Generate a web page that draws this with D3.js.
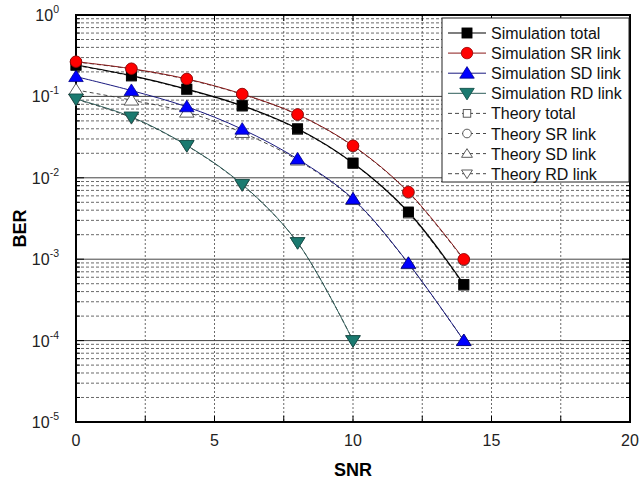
<!DOCTYPE html>
<html>
<head>
<meta charset="utf-8">
<script src="https://cdn.jsdelivr.net/npm/d3@7"></script>
<style>
  body { margin: 0; background: #fff; }
  svg { font-family: "Liberation Sans", Arial, sans-serif; }
</style>
</head>
<body>
<svg id="chart" width="639" height="482"></svg>
<script>
const snr = [0, 2, 4, 6, 8, 10, 12, 14]

const simTotal = [0.243, 0.18, 0.123, 0.077, 0.04, 0.0152, 0.0038, 0.00049]
const simSR = [0.267, 0.219, 0.164, 0.107, 0.06, 0.0248, 0.0067, 0.001]
const simSD = [0.175, 0.118, 0.0745, 0.0395, 0.017, 0.0055, 0.00089, 0.0001]
const simRD = [0.093, 0.056, 0.025, 0.0083, 0.0016, 0.0001]

const thTotal = [0.24, 0.178, 0.121, 0.076, 0.0395, 0.015, 0.0037, 0.00048]
const thSR = [0.265, 0.217, 0.162, 0.106, 0.0595, 0.0245, 0.0066, 0.00098]
const thSD = [0.12, 0.09, 0.064, 0.036, 0.0165, 0.0054, 0.00088, 0.0001]
const thRD = [0.092, 0.055, 0.0248, 0.0082, 0.0016, 0.0001]

const xTicks = [0, 5, 10, 15, 20]
const xGrid = [2.5, 5, 7.5, 10, 12.5, 15, 17.5]
const yExps = [0, -1, -2, -3, -4, -5]

const legendLabels = ['Simulation total', 'Simulation SR link', 'Simulation SD link', 'Simulation RD link',
  'Theory total', 'Theory SR link', 'Theory SD link', 'Theory RD link']

const svg = d3.select('#chart')
const pL = 76, pR = 630, pT = 15, pB = 422

const x = d3.scaleLinear().domain([0, 20]).range([pL, pR])
const y = d3.scaleLog().domain([1e-5, 1]).range([pB, pT])

// minor grid values
const minors = []
for (let e = -5; e < 0; e++) {
  for (let m = 2; m <= 9; m++) minors.push(m * Math.pow(10, e))
}

const grid = svg.append('g')
grid.selectAll('.hminor').data(minors).join('line')
  .attr('x1', pL).attr('x2', pR)
  .attr('y1', d => y(d)).attr('y2', d => y(d))
  .attr('stroke', '#444').attr('stroke-width', 0.8).attr('stroke-dasharray', '3,2')
grid.selectAll('.hmajor').data(yExps.slice(1, -1)).join('line')
  .attr('x1', pL).attr('x2', pR)
  .attr('y1', d => y(Math.pow(10, d))).attr('y2', d => y(Math.pow(10, d)))
  .attr('stroke', '#444').attr('stroke-width', 1)
grid.selectAll('.vgrid').data(xGrid).join('line')
  .attr('x1', d => x(d)).attr('x2', d => x(d))
  .attr('y1', pT).attr('y2', pB)
  .attr('stroke', '#444').attr('stroke-width', 0.8).attr('stroke-dasharray', '2,2')

// ticks on all four sides
const tickG = svg.append('g').attr('stroke', '#000').attr('stroke-width', 1)
;[pL, pR].forEach(px => {
  const dir = px === pL ? 1 : -1
  tickG.append('g').selectAll('line').data(minors).join('line')
    .attr('x1', px).attr('x2', px + dir * 4)
    .attr('y1', d => y(d)).attr('y2', d => y(d))
  tickG.append('g').selectAll('line').data(yExps).join('line')
    .attr('x1', px).attr('x2', px + dir * 8)
    .attr('y1', d => y(Math.pow(10, d))).attr('y2', d => y(Math.pow(10, d)))
})
;[pT, pB].forEach(py => {
  const dir = py === pT ? 1 : -1
  tickG.append('g').selectAll('line').data(xGrid).join('line')
    .attr('x1', d => x(d)).attr('x2', d => x(d))
    .attr('y1', py).attr('y2', py + dir * 6)
})

// frame
svg.append('rect').attr('x', pL).attr('y', pT)
  .attr('width', pR - pL).attr('height', pB - pT)
  .attr('fill', 'none').attr('stroke', '#000').attr('stroke-width', 2)

// tick labels
svg.append('g').selectAll('text').data(xTicks).join('text')
  .attr('x', d => x(d)).attr('y', pB + 24)
  .attr('text-anchor', 'middle').attr('font-size', 16).attr('fill', '#222')
  .text(d => d)

const yl = svg.append('g').selectAll('text').data(yExps).join('text')
  .attr('x', 59).attr('y', d => y(Math.pow(10, d)) + 6)
  .attr('text-anchor', 'end').attr('font-size', 16).attr('fill', '#222')
yl.append('tspan').text('10')
yl.append('tspan').attr('dy', -8).attr('font-size', 10.5).text(d => d)

// axis titles
svg.append('text').attr('x', x(10)).attr('y', 476)
  .attr('text-anchor', 'middle').attr('font-size', 18).attr('font-weight', 'bold')
  .text('SNR')
svg.append('text').attr('transform', `translate(26,${(pT + pB) / 2 + 10}) rotate(-90)`)
  .attr('text-anchor', 'middle').attr('font-size', 18).attr('font-weight', 'bold')
  .text('BER')

const curve = d3.line()
  .x((d, i) => x(snr[i]))
  .y(d => y(d))
  .curve(d3.curveCatmullRom.alpha(0.5))

const series = [
  { v: thTotal, stroke: '#333', dash: '4,3', w: 0.9, shape: 'square', fill: '#fff', mstroke: '#333' },
  { v: thSR, stroke: '#333', dash: '4,3', w: 0.9, shape: 'circle', fill: '#fff', mstroke: '#333' },
  { v: thSD, stroke: '#333', dash: '4,3', w: 0.9, shape: 'up', fill: '#fff', mstroke: '#333' },
  { v: thRD, stroke: '#333', dash: '4,3', w: 0.9, shape: 'down', fill: '#fff', mstroke: '#333' },
  { v: simRD, stroke: '#2f5e5a', dash: null, w: 1, shape: 'down', fill: '#1b7a70', mstroke: '#0e4a44' },
  { v: simSD, stroke: '#1a1a80', dash: null, w: 1, shape: 'up', fill: '#0000ff', mstroke: '#00008a' },
  { v: simTotal, stroke: '#000', dash: null, w: 1.2, shape: 'square', fill: '#000', mstroke: '#000' },
  { v: simSR, stroke: '#8a1a1a', dash: null, w: 1, shape: 'circle', fill: '#ff0000', mstroke: '#9a0000' }
]

function marker(g, shape, cx, cy, s) {
  if (shape === 'square') {
    return g.append('rect').attr('x', cx - s * 0.42).attr('y', cy - s * 0.42)
      .attr('width', s * 0.84).attr('height', s * 0.84)
  }
  if (shape === 'circle') {
    return g.append('circle').attr('cx', cx).attr('cy', cy).attr('r', s * 0.48)
  }
  const h = s * 0.55
  const pts = shape === 'up'
    ? [[cx, cy - h], [cx - h * 1.1, cy + h * 0.75], [cx + h * 1.1, cy + h * 0.75]]
    : [[cx, cy + h], [cx - h * 1.1, cy - h * 0.75], [cx + h * 1.1, cy - h * 0.75]]
  return g.append('polygon').attr('points', pts.map(p => p.join(',')).join(' '))
}

const plot = svg.append('g')
series.forEach(s => {
  plot.append('path').attr('d', curve(s.v))
    .attr('fill', 'none').attr('stroke', s.stroke).attr('stroke-width', s.w)
    .attr('stroke-dasharray', s.dash)
})
series.forEach(s => {
  s.v.forEach((d, i) => {
    marker(plot, s.shape, x(snr[i]), y(d), 12)
      .attr('fill', s.fill).attr('stroke', s.mstroke).attr('stroke-width', 0.8)
  })
})

// legend
const lg = svg.append('g')
lg.append('rect').attr('x', 442).attr('y', 18).attr('width', 187).attr('height', 164)
  .attr('fill', '#fff').attr('stroke', '#222').attr('stroke-width', 1)
const legendOrder = [6, 7, 5, 4, 0, 1, 2, 3]
legendLabels.forEach((lab, i) => {
  const s = series[legendOrder[i]]
  const ly = 33 + i * 20.1
  lg.append('line').attr('x1', 448).attr('x2', 486).attr('y1', ly).attr('y2', ly)
    .attr('stroke', s.stroke).attr('stroke-width', s.w).attr('stroke-dasharray', s.dash)
  const isTh = i >= 4
  marker(lg, s.shape, 467, ly, isTh ? 9 : 12)
    .attr('fill', s.fill).attr('stroke', s.mstroke).attr('stroke-width', 0.8)
  lg.append('text').attr('x', 491).attr('y', ly + 6)
    .attr('font-size', 16).attr('fill', '#111').text(lab)
})
</script>
</body>
</html>
